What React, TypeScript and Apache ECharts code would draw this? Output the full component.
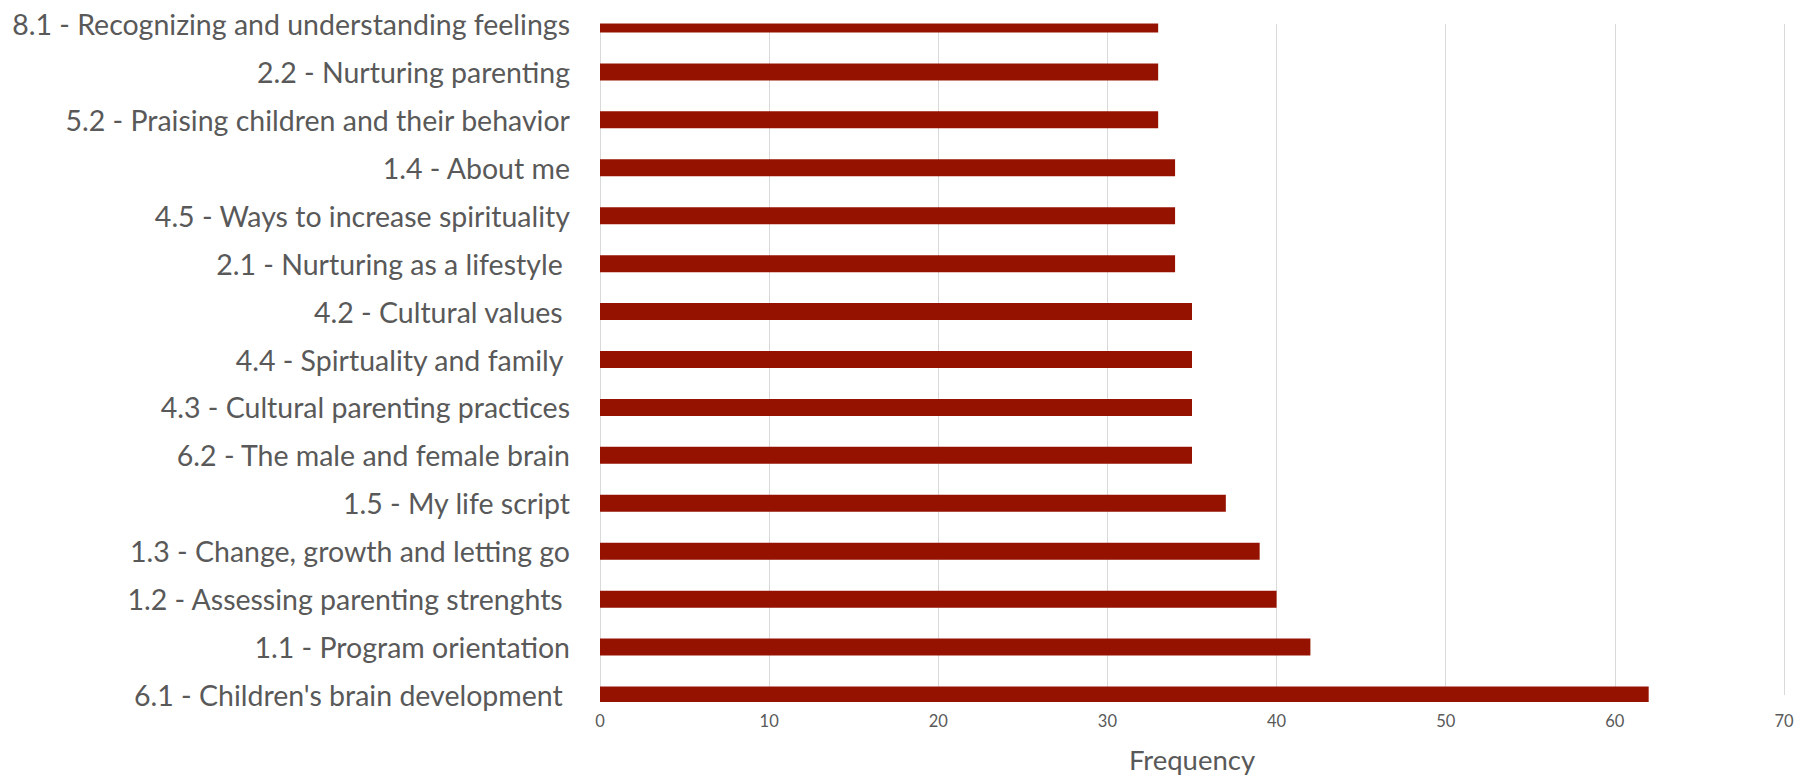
import React, { useEffect, useRef } from "react";
import * as echarts from "echarts";

// Session topics, listed top to bottom
const topics: string[] = [
  "8.1 - Recognizing and understanding feelings",
  "2.2 - Nurturing parenting",
  "5.2 - Praising children and their behavior",
  "1.4 - About me",
  "4.5 - Ways to increase spirituality",
  "2.1 - Nurturing as a lifestyle ",
  "4.2 - Cultural values ",
  "4.4 - Spirtuality and family ",
  "4.3 - Cultural parenting practices",
  "6.2 - The male and female brain",
  "1.5 - My life script",
  "1.3 - Change, growth and letting go",
  "1.2 - Assessing parenting strenghts ",
  "1.1 - Program orientation",
  "6.1 - Children's brain development ",
];

// How often each topic was reported
const frequency: number[] = [33, 33, 33, 34, 34, 34, 35, 35, 35, 35, 37, 39, 40, 42, 62];

const FONT = "Lato, 'Open Sans', sans-serif";
const TEXT = "#595959";

const W = 1813;
const H = 778;
const GRID = { left: 600, right: 29, top: 24, bottom: 78 };

export default function App() {
  const ref = useRef<HTMLDivElement>(null);

  useEffect(() => {
    if (!ref.current) return;
    const chart = echarts.init(ref.current, null, { renderer: "svg" });
    const plotW = W - GRID.left - GRID.right;
    chart.setOption({
      animation: false,
      backgroundColor: "#ffffff",
      grid: { ...GRID, containLabel: false },
      xAxis: {
        type: "value",
        min: 0,
        max: 70,
        interval: 10,
        name: "Frequency",
        nameLocation: "middle",
        nameGap: 50,
        nameTextStyle: { fontFamily: FONT, fontSize: 27.5, color: TEXT },
        axisLine: { show: false },
        axisTick: { show: false },
        axisLabel: { fontFamily: FONT, fontSize: 16.5, color: TEXT, margin: 17 },
        splitLine: { show: true, lineStyle: { color: "#d9d9d9", width: 1 } },
      },
      yAxis: {
        type: "category",
        inverse: true,
        boundaryGap: false,
        data: topics,
        axisLine: { show: false },
        axisTick: { show: false },
        splitLine: { show: false },
        axisLabel: { fontFamily: FONT, fontSize: 28.5, color: TEXT, margin: 30 },
      },
      // the end bars sit on the plot edges; white bands trim them to the plot area
      graphic: [
        {
          type: "rect",
          z: 100,
          silent: true,
          shape: { x: GRID.left - 2, y: 0, width: plotW + 6, height: GRID.top - 0.5 },
          style: { fill: "#ffffff" },
        },
        {
          type: "rect",
          z: 100,
          silent: true,
          shape: { x: GRID.left - 2, y: H - GRID.bottom + 2, width: plotW + 6, height: 10 },
          style: { fill: "#ffffff" },
        },
      ],
      series: [
        {
          type: "bar",
          data: frequency,
          barWidth: 17,
          clip: true,
          itemStyle: { color: "#961200" },
        },
      ],
    });
    return () => chart.dispose();
  }, []);

  return (
    <div
      ref={ref}
      style={{ position: "absolute", left: 0, top: 0, width: W, height: H, background: "#fff" }}
    />
  );
}
